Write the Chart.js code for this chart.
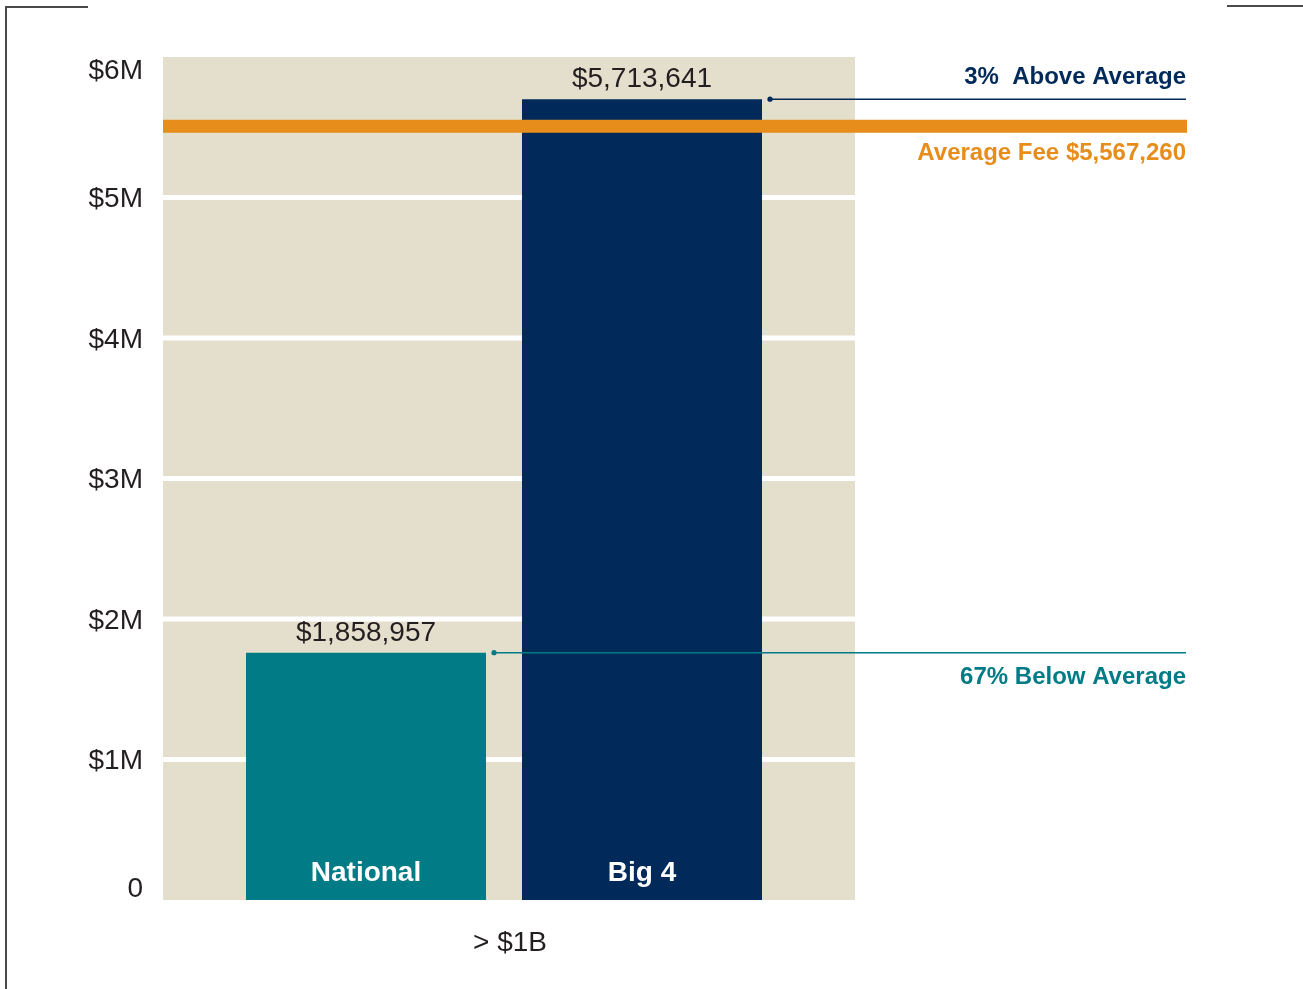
<!DOCTYPE html>
<html>
<head>
<meta charset="utf-8">
<title>Average Fee by Firm Type</title>
<script src="https://cdn.jsdelivr.net/npm/chart.js@4.4.1/dist/chart.umd.min.js"></script>
<style>
  html, body { margin: 0; padding: 0; background: #fff; }
  #wrap { position: relative; width: 1303px; height: 989px; overflow: hidden; }
  .frame { position: absolute; border-color: #4a4a4a; border-style: solid; border-width: 0; }
</style>
</head>
<body>
<div id="wrap">
  <canvas id="feeChart" width="1303" height="989"></canvas>
  <div class="frame" style="left:5px; top:6px; width:83px; border-top-width:2px;"></div>
  <div class="frame" style="left:5px; top:6px; height:983px; border-left-width:2px;"></div>
  <div class="frame" style="left:1227px; top:5px; width:76px; border-top-width:2px;"></div>
</div>
<script>
// Data
const categories = ['> $1B'];
const firms = ['National', 'Big 4'];
const feeValues = [1760000, 5700000];          // bar heights as drawn
const feeLabels = ['$1,858,957', '$5,713,641'];
const averageFee = 5507000;                    // position of the orange line
const averageLabel = 'Average Fee $5,567,260';
const diffLabels = ['67% Below Average', '3%  Above Average'];
const yTickValues = [0, 1000000, 2000000, 3000000, 4000000, 5000000, 6000000];
const yTickLabels = ['0', '$1M', '$2M', '$3M', '$4M', '$5M', '$6M'];

const COLORS = {
  teal: '#017B86',
  navy: '#012A5B',
  orange: '#E68D1C',
  beige: '#E4DFCC',
  text: '#231F20',
  grid: '#FFFFFF'
};
const FONT = "'Liberation Sans', Arial, sans-serif";
const barColors = [COLORS.teal, COLORS.navy];
const PLOT_SHIFT = 5; // beige panel sits a little right of the bar group centre

// beige plot background + white gridlines
const plotBackground = {
  id: 'plotBackground',
  beforeDatasetsDraw(chart) {
    const { ctx, chartArea: a, scales: { y } } = chart;
    const left = a.left + PLOT_SHIFT;
    const width = a.right - a.left;
    ctx.save();
    ctx.fillStyle = COLORS.beige;
    ctx.fillRect(left, a.top, width, a.bottom - a.top);
    ctx.fillStyle = COLORS.grid;
    y.ticks.forEach(t => {
      if (t.value === y.min || t.value === y.max) return;
      const py = y.getPixelForValue(t.value);
      ctx.fillRect(left, py - 2.5, width, 5);
    });
    ctx.restore();
  }
};

// average line, value labels, leader lines and notes
const annotations = {
  id: 'annotations',
  afterDatasetsDraw(chart) {
    const { ctx, chartArea: a, scales: { y } } = chart;
    const rightEdge = chart.width - 116;
    ctx.save();

    // average fee line
    const avgY = y.getPixelForValue(averageFee);
    ctx.fillStyle = COLORS.orange;
    ctx.fillRect(a.left + PLOT_SHIFT, avgY - 6.5, rightEdge - a.left - PLOT_SHIFT, 13);
    ctx.font = `bold 24px ${FONT}`;
    ctx.textAlign = 'right';
    ctx.textBaseline = 'middle';
    ctx.fillText(averageLabel, rightEdge - 1, avgY + 27);

    firms.forEach((name, i) => {
      const bar = chart.getDatasetMeta(i).data[0];
      const color = barColors[i];

      // value above bar
      ctx.fillStyle = COLORS.text;
      ctx.font = `28px ${FONT}`;
      ctx.textAlign = 'center';
      ctx.textBaseline = 'alphabetic';
      ctx.fillText(feeLabels[i], bar.x, bar.y - 12);

      // firm name inside bar
      ctx.fillStyle = '#FFFFFF';
      ctx.font = `bold 28px ${FONT}`;
      ctx.textBaseline = 'middle';
      ctx.fillText(name, bar.x, y.getPixelForValue(0) - 27);

      // leader line with dot
      const startX = bar.x + bar.width / 2 + 8;
      ctx.strokeStyle = color;
      ctx.fillStyle = color;
      ctx.lineWidth = 1.5;
      ctx.beginPath();
      ctx.moveTo(startX, bar.y);
      ctx.lineTo(rightEdge - 1, bar.y);
      ctx.stroke();
      ctx.beginPath();
      ctx.arc(startX, bar.y, 2.6, 0, Math.PI * 2);
      ctx.fill();

      // note text
      ctx.font = `bold 24px ${FONT}`;
      ctx.textAlign = 'right';
      const noteY = feeValues[i] > averageFee ? bar.y - 22 : bar.y + 25;
      ctx.fillText(diffLabels[i], rightEdge - 1, noteY);
    });
    ctx.restore();
  }
};

new Chart(document.getElementById('feeChart'), {
  type: 'bar',
  data: {
    labels: categories,
    datasets: firms.map((name, i) => ({
      label: name,
      data: [feeValues[i]],
      backgroundColor: barColors[i],
      borderWidth: 0,
      categoryPercentage: 0.7977,
      barPercentage: 0.8696
    }))
  },
  options: {
    responsive: false,
    animation: false,
    layout: { padding: { top: 57, right: 1303 - 855 + PLOT_SHIFT, left: 0, bottom: 0 } },
    plugins: {
      legend: { display: false },
      tooltip: { enabled: false }
    },
    scales: {
      x: {
        grid: { display: false },
        border: { display: false },
        ticks: {
          color: COLORS.text,
          padding: 18,
          labelOffset: 6,
          font: { family: FONT, size: 28 }
        },
        afterFit(scale) { scale.height = 89; }
      },
      y: {
        min: 0,
        max: 6000000,
        border: { display: false },
        grid: { display: false, drawTicks: false },
        ticks: {
          stepSize: 1000000,
          padding: 15,
          labelOffset: 2,
          color: COLORS.text,
          font: { family: FONT, size: 28, lineHeight: 0.9 },
          callback: (value) => {
            const label = yTickLabels[yTickValues.indexOf(value)];
            if (value === 6000000) return ['', label];
            if (value === 0) return [label, ''];
            return label;
          }
        },
        afterFit(scale) { scale.width = 163 - PLOT_SHIFT; }
      }
    }
  },
  plugins: [plotBackground, annotations]
});
</script>
</body>
</html>
